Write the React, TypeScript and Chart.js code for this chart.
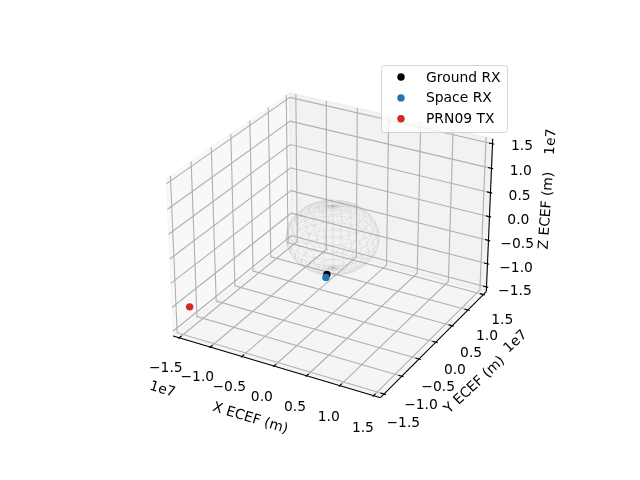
import React, { useEffect, useRef } from "react";
import { Chart, registerables } from "chart.js";
Chart.register(...registerables);

const tickValues = [-1.5e7, -1e7, -0.5e7, 0, 0.5e7, 1e7, 1.5e7];
const tickLabels = ["\u22121.5", "\u22121.0", "\u22120.5", "0.0", "0.5", "1.0", "1.5"];
const groundRx = [[0.36e6, -2.3e6, -6.1e6]];
const spaceRx = [[0.38e6, -2.62e6, -6.5e6]];
const prn09 = [[-1.5e7, -1.319e7, -1.138e7]];
const limit = 1.6e7;
const elevation = 28;
const azimuth = -60.8;
const earthRadius = 6.371e6;
const meridians = [0,12,24,36,48,60,72,84,96,108,120,132,144,156,168,180,192,204,216,228,240,252,264,276,288,300,312,324,336,348];
const parallels = [-84,-72,-60,-48,-36,-24,-12,0,12,24,36,48,60,72,84];
const legendNames = ["Ground RX", "Space RX", "PRN09 TX"];
const legendColors = ["#000000", "#1f77b4", "#d62728"];

const asp = (() => { const k = 1.8294640721620434 * 25 / 24 / Math.sqrt(41); return [4 * k, 4 * k, 3 * k]; })();
const el = (elevation * Math.PI) / 180;
const az = (azimuth * Math.PI) / 180;
const W = [Math.cos(el) * Math.cos(az), Math.cos(el) * Math.sin(az), Math.sin(el)];
const U = [-Math.sin(az), Math.cos(az), 0];
const V = [-Math.sin(el) * Math.cos(az), -Math.sin(el) * Math.sin(az), Math.cos(el)];
function proj(p: number[]) {
  const r = p.map((c, i) => (c / limit) * asp[i] * 0.5);
  const d = 10 - (W[0] * r[0] + W[1] * r[1] + W[2] * r[2]);
  const X = (U[0] * r[0] + U[1] * r[1]) / d;
  const Y = (V[0] * r[0] + V[1] * r[1] + V[2] * r[2]) / d;
  const s = 369.6 / 0.185;
  return { x: 143.2 + (X + 0.095) * s, y: 427.2 - (Y + 0.095) * s };
}
const L = limit;
const rng = 2 * L;
const delta = rng / 12;
const tickLab = 11.5 * (48 / 532.2) * delta;
const axLab = 25 * (48 / 532.2) * delta;

function line(pts: number[][], color: string, width: number, extra: any = {}) {
  return { data: pts.map(proj), borderColor: color, borderWidth: width, showLine: true, pointRadius: 0, tension: 0, fill: false, clip: false, borderCapStyle: "butt", ...extra };
}
function pane(pts: number[][], color: string) {
  return line([...pts, pts[0]], color, 1.1, { fill: "shape", backgroundColor: color });
}
function dots(pts: number[][], color: string, label: string) {
  return { label, data: pts.map(proj), showLine: false, pointRadius: 3.7, pointBorderWidth: 0, pointBackgroundColor: color, backgroundColor: color, clip: false };
}

function buildDatasets() {
  const ds: any[] = [];
  ds.push(pane([[-L, -L, -L], [-L, L, -L], [-L, L, L], [-L, -L, L]], "rgba(242,242,242,0.5)"));
  ds.push(pane([[-L, L, -L], [L, L, -L], [L, L, L], [-L, L, L]], "rgba(230,230,230,0.5)"));
  ds.push(pane([[-L, -L, -L], [L, -L, -L], [L, L, -L], [-L, L, -L]], "rgba(236,236,236,0.5)"));
  const grid = "#b0b0b0";
  for (const t of tickValues) {
    ds.push(line([[t, -L, -L], [t, L, -L], [t, L, L]], grid, 1.1));
    ds.push(line([[L, t, -L], [-L, t, -L], [-L, t, L]], grid, 1.1));
    ds.push(line([[-L, -L, t], [-L, L, t], [L, L, t]], grid, 1.1));
  }
  ds.push(line([[-L, -L, -L], [L, -L, -L]], "#000", 1.1));
  ds.push(line([[L, -L, -L], [L, L, -L]], "#000", 1.1));
  ds.push(line([[L, L, -L], [L, L, L]], "#000", 1.1));
  for (const t of tickValues) {
    ds.push(line([[t, -L + 0.2 * delta, -L], [t, -L - 0.1 * delta, -L]], "#000", 1.1));
    ds.push(line([[L - 0.2 * delta, t, -L], [L + 0.1 * delta, t, -L]], "#000", 1.1));
    ds.push(line([[L - 0.2 * delta, L, t], [L + 0.1 * delta, L, t]], "#000", 1.1));
  }
  const wire = "rgba(128,128,128,0.18)";
  const rad = Math.PI / 180;
  const angles = [...meridians, 360];
  for (const m of meridians) {
    ds.push(line([-90, ...parallels, 90].map((a) => [earthRadius * Math.cos(a * rad) * Math.cos(m * rad), earthRadius * Math.cos(a * rad) * Math.sin(m * rad), earthRadius * Math.sin(a * rad)]), wire, 0.6));
  }
  for (const a of parallels) {
    ds.push(line(angles.map((m) => [earthRadius * Math.cos(a * rad) * Math.cos(m * rad), earthRadius * Math.cos(a * rad) * Math.sin(m * rad), earthRadius * Math.sin(a * rad)]), wire, 0.6));
  }
  ds.push(dots(groundRx, legendColors[0], legendNames[0]));
  ds.push(dots(spaceRx, legendColors[1], legendNames[1]));
  ds.push(dots(prn09, legendColors[2], legendNames[2]));
  ds.forEach((d, i) => { d.order = -i; });
  return ds;
}

const FONT = '13.89px "DejaVu Sans"';
function rotText(ctx: CanvasRenderingContext2D, txt: string, x: number, y: number, deg: number, align: CanvasTextAlign) {
  ctx.save();
  ctx.translate(x, y);
  ctx.rotate((deg * Math.PI) / 180);
  ctx.textAlign = align;
  ctx.textBaseline = "middle";
  ctx.fillText(txt, 0, 0);
  ctx.restore();
}
const textPlugin = {
  id: "axes3dText",
  afterDatasetsDraw(chart: any) {
    const ctx: CanvasRenderingContext2D = chart.ctx;
    ctx.save();
    ctx.font = FONT;
    ctx.fillStyle = "#000";
    tickValues.forEach((t, i) => {
      const a = proj([t, -L - tickLab, -L - tickLab]);
      rotText(ctx, tickLabels[i], a.x - 1, a.y + 6, 0, "center");
      const b = proj([L + tickLab, t, -L - tickLab]);
      rotText(ctx, tickLabels[i], b.x - 0.5, b.y + 7.5, 0, "center");
      const c = proj([L + tickLab, L + tickLab, t]);
      rotText(ctx, tickLabels[i], c.x, c.y + 7.5, 0, "center");
    });
    const xl = proj([0, -L - axLab, -L - axLab]);
    rotText(ctx, "X ECEF (m)", xl.x, xl.y - 0.5, 17, "center");
    const yl = proj([L + axLab, 0, -L - axLab]);
    rotText(ctx, "Y ECEF (m)", yl.x - 2, yl.y + 1, -43, "center");
    const zl = proj([L + axLab, L + axLab, 0]);
    rotText(ctx, "Z ECEF (m)", zl.x - 3, zl.y + 2, -86, "center");
    const xo = proj([-L, -L - axLab, -L - axLab]);
    rotText(ctx, "1e7", xo.x + 2, xo.y - 1, 17, "left");
    const yo = proj([L + axLab, L, -L - axLab]);
    rotText(ctx, "1e7", yo.x - 1, yo.y + 2, -43, "right");
    const zo = proj([L + axLab, L + axLab, L]);
    rotText(ctx, "1e7", zo.x - 3, zo.y + 12, -86, "center");

    ctx.beginPath();
    ctx.roundRect(381.5, 65.5, 126, 67, 3);
    ctx.fillStyle = "rgba(255,255,255,0.8)";
    ctx.fill();
    ctx.strokeStyle = "rgba(204,204,204,0.8)";
    ctx.lineWidth = 1;
    ctx.stroke();
    legendNames.forEach((n, i) => {
      const y = 77 + i * 20.9;
      ctx.beginPath();
      ctx.arc(401, y, 3.7, 0, Math.PI * 2);
      ctx.fillStyle = legendColors[i];
      ctx.fill();
      ctx.fillStyle = "#000";
      ctx.textAlign = "left";
      ctx.textBaseline = "alphabetic";
      ctx.fillText(n, 426, y + 4.5);
    });
    ctx.restore();
  },
};

export default function App() {
  const ref = useRef<HTMLCanvasElement>(null);
  useEffect(() => {
    document.body.style.margin = "0";
    const chart = new Chart(ref.current!, {
      type: "scatter",
      data: { datasets: buildDatasets() },
      plugins: [textPlugin],
      options: {
        animation: false,
        responsive: false,
        layout: { padding: 0 },
        plugins: { legend: { display: false }, tooltip: { enabled: false } },
        scales: {
          x: { type: "linear", display: false, min: 0, max: 640 },
          y: { type: "linear", display: false, min: 0, max: 480, reverse: true },
        },
      },
    } as any);
    return () => chart.destroy();
  }, []);
  return <canvas ref={ref} width={640} height={480} style={{ display: "block" }} />;
}
